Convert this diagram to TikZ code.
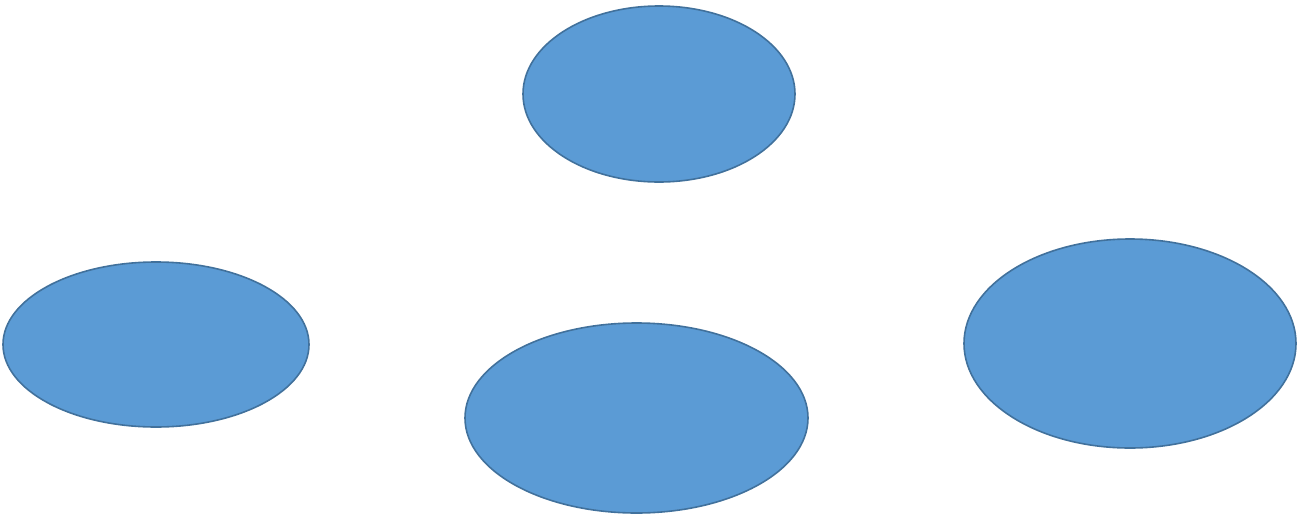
\documentclass[tikz,border=0pt]{standalone}
\usetikzlibrary{shapes.geometric}
\definecolor{blobfill}{HTML}{5B9BD5}
\definecolor{blobline}{HTML}{41719C}
\begin{document}
\begin{tikzpicture}[x=0.5pt,y=-0.5pt,
  blob/.style={ellipse,fill=blobfill,draw=blobline,line width=0.8pt,inner sep=0pt}]
\useasboundingbox (0,0) rectangle (1302,515);
\node[blob,minimum width=136pt,minimum height=88pt] (top) at (659,94) {};
\node[blob,minimum width=153pt,minimum height=82.5pt] (left) at (156,344.5) {};
\node[blob,minimum width=171.5pt,minimum height=95pt] (bottom) at (636.5,418) {};
\node[blob,minimum width=166pt,minimum height=104.5pt] (right) at (1130,343.5) {};
\end{tikzpicture}
\end{document}
